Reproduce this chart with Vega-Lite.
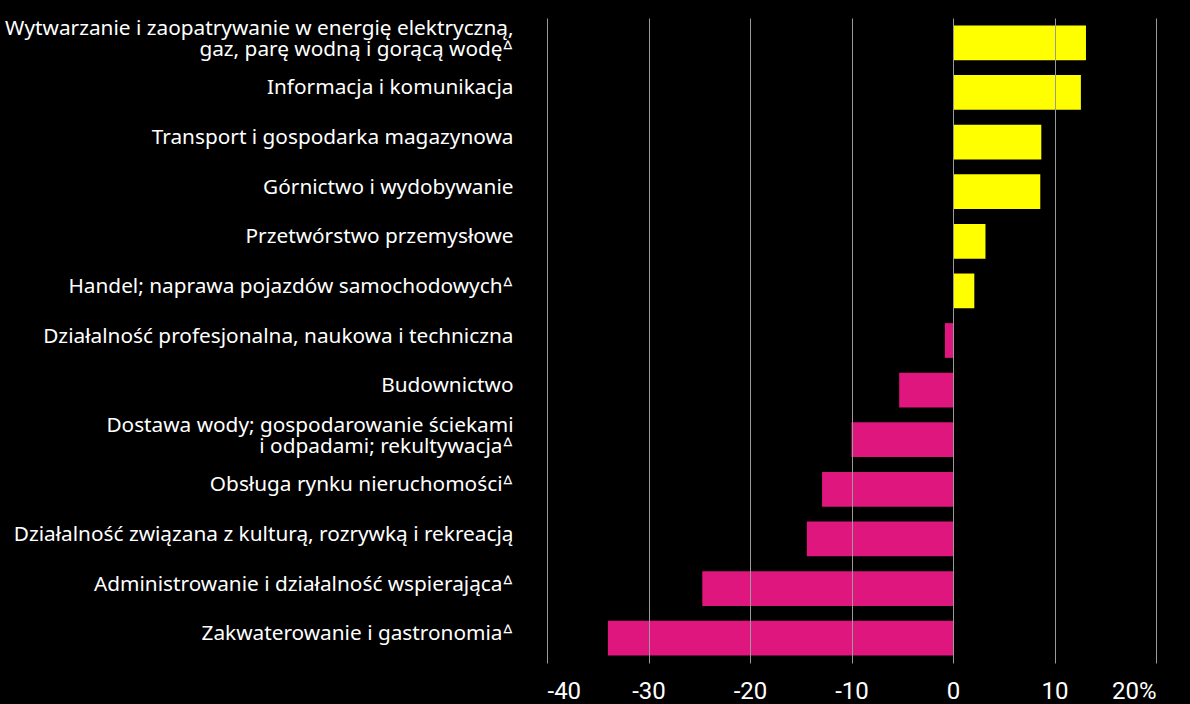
{
  "$schema": "https://vega.github.io/schema/vega-lite/v6.json",
  "width": 609,
  "height": 645,
  "autosize": {"type": "none"},
  "padding": {"left": 547, "top": 18, "right": 34, "bottom": 41},
  "background": "#000000",
  "config": {
    "view": {"stroke": null},
    "font": "Noto Sans"
  },
  "data": {
    "values": [
      {"label": "Wytwarzanie i zaopatrywanie w energię elektryczną,|gaz, parę wodną i gorącą wodęᐞ", "value": 13.1},
      {"label": "Informacja i komunikacja", "value": 12.6},
      {"label": "Transport i gospodarka magazynowa", "value": 8.7},
      {"label": "Górnictwo i wydobywanie", "value": 8.6},
      {"label": "Przetwórstwo przemysłowe", "value": 3.2},
      {"label": "Handel; naprawa pojazdów samochodowychᐞ", "value": 2.1},
      {"label": "Działalność profesjonalna, naukowa i techniczna", "value": -0.8},
      {"label": "Budownictwo", "value": -5.3},
      {"label": "Dostawa wody; gospodarowanie ściekami|i odpadami; rekultywacjaᐞ", "value": -10.0},
      {"label": "Obsługa rynku nieruchomościᐞ", "value": -12.9},
      {"label": "Działalność związana z kulturą, rozrywką i rekreacją", "value": -14.4},
      {"label": "Administrowanie i działalność wspierającaᐞ", "value": -24.7},
      {"label": "Zakwaterowanie i gastronomiaᐞ", "value": -34.0}
    ]
  },
  "mark": {"type": "bar"},
  "encoding": {
    "y": {
      "field": "label",
      "type": "nominal",
      "sort": "-x",
      "scale": {"paddingInner": 0.3, "paddingOuter": 0.15},
      "axis": {
        "title": null,
        "ticks": false,
        "domain": false,
        "labelColor": "#ffffff",
        "labelFontSize": 20.8,
        "labelPadding": 34,
        "labelLimit": 700,
        "labelOffset": {"condition": {"test": "indexof(datum.label, '|') >= 0", "value": -14}, "value": -4},
        "labelLineHeight": 21.5,
        "labelExpr": "split(datum.label, '|')"
      }
    },
    "x": {
      "field": "value",
      "type": "quantitative",
      "scale": {"domain": [-40, 20], "nice": false},
      "axis": {
        "title": null,
        "values": [-40, -30, -20, -10, 0, 10, 20],
        "ticks": false,
        "domain": false,
        "grid": true,
        "gridColor": "#9a9a9a",
        "gridWidth": 1,
        "zindex": 1,
        "labelColor": "#ffffff",
        "labelFontSize": 24,
        "labelPadding": 16,
        "labelFont": "Roboto",
        "labelExpr": "datum.value == 20 ? '20%' : replace(datum.label, '−', '-')"
      }
    },
    "color": {
      "condition": {"test": "datum.value >= 0", "value": "#ffff00"},
      "value": "#df167e"
    }
  }
}
